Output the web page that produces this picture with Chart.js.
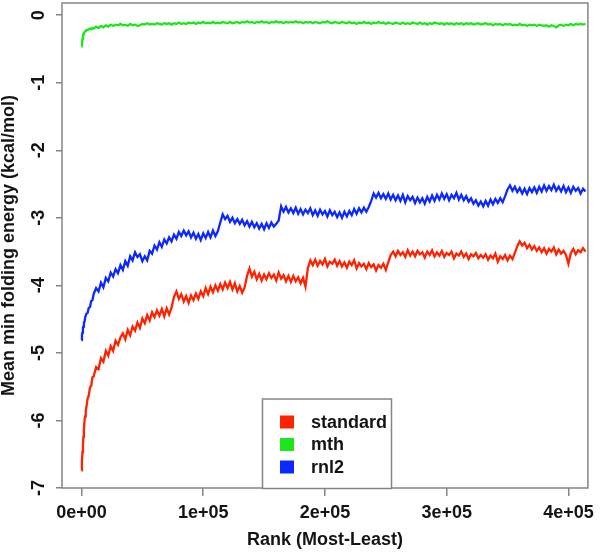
<!DOCTYPE html>
<html>
<head>
<meta charset="utf-8">
<script src="https://cdn.jsdelivr.net/npm/chart.js@4.4.1/dist/chart.umd.min.js"></script>
<style>
  html, body { margin: 0; padding: 0; background: #fff; }
  canvas { display: block; }
</style>
</head>
<body>
<canvas id="c" width="600" height="553"></canvas>
<script>
// ---- data ----
const ranks = [0,400,800,1200,1600,2000,2500,3000,3500,4000,5000,6000,7000,8000,9000,10000,
12000,14000,16000,18000,20000,22000,24000,26000,28000,30000,
32000,34000,36000,38000,40000,42000,44000,46000,48000,50000,
52000,54000,56000,58000,60000,62000,64000,66000,68000,70000,
72000,74000,76000,78000,80000,82000,84000,86000,88000,90000,
92000,94000,96000,98000,100000,102000,104000,106000,108000,110000,
112000,114000,116000,118000,120000,122000,124000,126000,128000,130000,
132000,134000,136000,138000,140000,142000,144000,146000,148000,150000,
152000,154000,156000,158000,160000,162000,164000,166000,168000,170000,
172000,174000,176000,178000,180000,182000,184000,186000,188000,190000,
192000,194000,196000,198000,200000,202000,204000,206000,208000,210000,
212000,214000,216000,218000,220000,222000,224000,226000,228000,230000,
232000,234000,236000,238000,240000,242000,244000,246000,248000,250000,
252000,254000,256000,258000,260000,262000,264000,266000,268000,270000,
272000,274000,276000,278000,280000,282000,284000,286000,288000,290000,
292000,294000,296000,298000,300000,302000,304000,306000,308000,310000,
312000,314000,316000,318000,320000,322000,324000,326000,328000,330000,
332000,334000,336000,338000,340000,342000,344000,346000,348000,350000,
352000,354000,356000,358000,360000,362000,364000,366000,368000,370000,
372000,374000,376000,378000,380000,382000,384000,386000,388000,390000,
392000,394000,396000,398000,400000,402000,404000,406000,408000,410000,
412000,414000];

const standard = [-6.74,-6.60,-6.47,-6.38,-6.24,-6.14,-6.00,-5.94,-5.85,-5.81,-5.68,-5.63,-5.51,-5.49,-5.36,-5.35,
-5.21,-5.24,-5.08,-5.13,-4.97,-5.04,-4.90,-4.97,-4.82,-4.88,
-4.77,-4.71,-4.80,-4.66,-4.74,-4.61,-4.67,-4.55,-4.63,-4.49,
-4.56,-4.44,-4.52,-4.40,-4.47,-4.37,-4.45,-4.35,-4.46,-4.34,
-4.43,-4.33,-4.17,-4.09,-4.20,-4.13,-4.24,-4.16,-4.26,-4.15,
-4.22,-4.12,-4.20,-4.09,-4.16,-4.04,-4.13,-4.02,-4.10,-4.00,
-4.08,-3.98,-4.06,-3.96,-4.04,-3.95,-4.06,-3.97,-4.09,-4.01,
-4.11,-4.03,-3.86,-3.75,-3.87,-3.80,-3.91,-3.83,-3.93,-3.84,
-3.91,-3.82,-3.89,-3.84,-3.93,-3.81,-3.90,-3.85,-3.94,-3.86,
-3.95,-3.86,-3.94,-3.88,-3.97,-3.89,-4.02,-3.74,-3.63,-3.70,
-3.62,-3.71,-3.64,-3.69,-3.61,-3.72,-3.65,-3.68,-3.62,-3.71,
-3.64,-3.72,-3.66,-3.74,-3.65,-3.70,-3.63,-3.75,-3.67,-3.72,
-3.68,-3.76,-3.67,-3.73,-3.69,-3.78,-3.70,-3.74,-3.68,-3.77,
-3.66,-3.55,-3.50,-3.57,-3.49,-3.55,-3.51,-3.58,-3.48,-3.56,
-3.50,-3.57,-3.49,-3.54,-3.51,-3.59,-3.50,-3.55,-3.48,-3.57,
-3.51,-3.56,-3.49,-3.58,-3.52,-3.55,-3.50,-3.60,-3.53,-3.56,
-3.50,-3.58,-3.53,-3.61,-3.54,-3.57,-3.52,-3.60,-3.55,-3.59,
-3.54,-3.62,-3.56,-3.60,-3.53,-3.65,-3.57,-3.61,-3.55,-3.63,
-3.56,-3.61,-3.52,-3.42,-3.35,-3.41,-3.37,-3.45,-3.40,-3.47,
-3.42,-3.49,-3.44,-3.51,-3.45,-3.53,-3.46,-3.50,-3.44,-3.54,
-3.47,-3.53,-3.49,-3.55,-3.68,-3.52,-3.46,-3.54,-3.48,-3.51,
-3.45,-3.50];

const mth = [-0.46,-0.40,-0.35,-0.31,-0.28,-0.27,-0.25,-0.24,-0.23,-0.22,-0.22,-0.21,-0.20,-0.21,-0.19,-0.20,
-0.17,-0.19,-0.16,-0.18,-0.15,-0.17,-0.14,-0.16,-0.14,-0.15,
-0.13,-0.15,-0.14,-0.16,-0.13,-0.15,-0.14,-0.16,-0.15,-0.13,
-0.14,-0.12,-0.14,-0.13,-0.14,-0.12,-0.13,-0.14,-0.12,-0.13,
-0.12,-0.14,-0.12,-0.13,-0.11,-0.13,-0.12,-0.13,-0.11,-0.12,
-0.11,-0.13,-0.11,-0.12,-0.10,-0.12,-0.11,-0.12,-0.10,-0.12,
-0.11,-0.12,-0.10,-0.11,-0.12,-0.10,-0.12,-0.11,-0.10,-0.12,
-0.10,-0.11,-0.09,-0.11,-0.10,-0.12,-0.10,-0.11,-0.09,-0.11,
-0.10,-0.12,-0.10,-0.11,-0.09,-0.11,-0.10,-0.12,-0.10,-0.11,
-0.10,-0.11,-0.09,-0.11,-0.10,-0.12,-0.10,-0.11,-0.10,-0.12,
-0.10,-0.11,-0.12,-0.10,-0.11,-0.09,-0.11,-0.12,-0.10,-0.11,
-0.12,-0.10,-0.11,-0.12,-0.10,-0.12,-0.11,-0.13,-0.11,-0.12,
-0.10,-0.12,-0.11,-0.13,-0.11,-0.12,-0.10,-0.12,-0.11,-0.13,
-0.11,-0.12,-0.13,-0.11,-0.12,-0.13,-0.11,-0.13,-0.12,-0.13,
-0.11,-0.12,-0.13,-0.11,-0.13,-0.12,-0.14,-0.12,-0.13,-0.11,
-0.12,-0.13,-0.12,-0.14,-0.12,-0.13,-0.12,-0.14,-0.12,-0.13,
-0.12,-0.14,-0.12,-0.13,-0.12,-0.14,-0.13,-0.12,-0.14,-0.13,
-0.12,-0.14,-0.13,-0.15,-0.13,-0.14,-0.13,-0.15,-0.13,-0.14,
-0.13,-0.15,-0.14,-0.15,-0.13,-0.15,-0.14,-0.16,-0.14,-0.15,
-0.14,-0.16,-0.14,-0.15,-0.16,-0.15,-0.17,-0.15,-0.16,-0.18,
-0.15,-0.14,-0.16,-0.14,-0.15,-0.13,-0.15,-0.13,-0.14,-0.13,
-0.14,-0.13];

const rnl2 = [-4.81,-4.73,-4.70,-4.62,-4.61,-4.55,-4.54,-4.48,-4.48,-4.42,-4.41,-4.33,-4.32,-4.23,-4.22,-4.13,
-4.04,-4.09,-3.96,-4.03,-3.89,-3.94,-3.81,-3.87,-3.76,-3.82,
-3.70,-3.77,-3.64,-3.71,-3.57,-3.63,-3.51,-3.58,-3.54,-3.64,
-3.57,-3.63,-3.49,-3.53,-3.41,-3.47,-3.36,-3.43,-3.32,-3.38,
-3.29,-3.35,-3.25,-3.31,-3.21,-3.27,-3.19,-3.26,-3.20,-3.29,
-3.22,-3.31,-3.24,-3.33,-3.23,-3.30,-3.21,-3.29,-3.19,-3.27,
-3.20,-3.07,-2.95,-3.02,-2.97,-3.06,-3.00,-3.08,-3.02,-3.09,
-3.03,-3.11,-3.05,-3.13,-3.06,-3.14,-3.08,-3.16,-3.09,-3.17,
-3.08,-3.15,-3.07,-3.13,-3.09,-3.04,-2.83,-2.91,-2.84,-2.92,
-2.86,-2.93,-2.85,-2.94,-2.87,-2.95,-2.88,-2.93,-2.86,-2.96,
-2.89,-2.97,-2.88,-2.95,-2.90,-2.98,-2.89,-2.96,-2.91,-2.99,
-2.92,-3.00,-2.91,-2.98,-2.90,-2.96,-2.87,-2.94,-2.86,-2.92,
-2.85,-2.91,-2.84,-2.75,-2.64,-2.70,-2.63,-2.71,-2.65,-2.72,
-2.64,-2.73,-2.66,-2.74,-2.67,-2.75,-2.66,-2.77,-2.68,-2.74,
-2.69,-2.78,-2.70,-2.77,-2.71,-2.79,-2.69,-2.76,-2.67,-2.75,
-2.66,-2.73,-2.64,-2.72,-2.65,-2.74,-2.66,-2.71,-2.63,-2.73,
-2.66,-2.74,-2.68,-2.76,-2.71,-2.79,-2.74,-2.82,-2.76,-2.83,
-2.75,-2.82,-2.73,-2.80,-2.72,-2.78,-2.71,-2.77,-2.68,-2.58,
-2.52,-2.60,-2.54,-2.62,-2.56,-2.64,-2.57,-2.65,-2.56,-2.62,
-2.55,-2.63,-2.54,-2.61,-2.52,-2.60,-2.53,-2.59,-2.51,-2.60,
-2.54,-2.61,-2.53,-2.62,-2.55,-2.63,-2.54,-2.60,-2.56,-2.64,
-2.57,-2.61];

const seriesNames = ['standard', 'mth', 'rnl2'];
const xTickValues = [0, 100000, 200000, 300000, 400000];
const xTickLabels = ['0e+00', '1e+05', '2e+05', '3e+05', '4e+05'];
const yTickValues = [0, -1, -2, -3, -4, -5, -6, -7];
const yTickLabels = ['0', '-1', '-2', '-3', '-4', '-5', '-6', '-7'];

// ---- styles ----
const FONT = '"Liberation Sans", Arial, Helvetica, sans-serif';
const colors = ['#ff2200', '#1ee61e', '#0a28ff'];
const boxColor = '#858585';
const textColor = '#141414';

const toPts = (vals) => vals.map((v, i) => ({ x: ranks[i], y: v }));

const frame = {
  id: 'frame',
  afterDraw(chart) {
    const { ctx, chartArea: a } = chart;
    ctx.save();
    ctx.strokeStyle = boxColor;
    ctx.lineWidth = 1.5;
    ctx.strokeRect(a.left, a.top, a.right - a.left, a.bottom - a.top);

    // rotated y tick labels
    const ys = chart.scales.y;
    ctx.fillStyle = textColor;
    ctx.font = 'bold 18px ' + FONT;
    ctx.textAlign = 'center';
    ctx.textBaseline = 'middle';
    ys.ticks.forEach((t) => {
      const idx = yTickValues.indexOf(t.value);
      const p = ys.getPixelForValue(t.value);
      ctx.save();
      ctx.translate(39, p);
      ctx.rotate(-Math.PI / 2);
      ctx.fillText(yTickLabels[idx], 0, 0);
      ctx.restore();
    });

    // legend
    const lx = 262.5, ly = 399, lw = 129, lh = 89.5;
    ctx.fillStyle = '#fff';
    ctx.fillRect(lx, ly, lw, lh);
    ctx.strokeStyle = boxColor;
    ctx.lineWidth = 1.5;
    ctx.strokeRect(lx, ly, lw, lh);
    chart.data.datasets.forEach((ds, i) => {
      const cy = 422 + i * 22.5;
      ctx.fillStyle = ds.borderColor;
      ctx.fillRect(280, cy - 6.5, 14, 13);
      ctx.fillStyle = textColor;
      ctx.textAlign = 'left';
      ctx.textBaseline = 'middle';
      ctx.fillText(ds.label, 311, cy + 1);
    });
    ctx.restore();
  }
};

new Chart(document.getElementById('c'), {
  type: 'line',
  data: {
    datasets: [
      { label: seriesNames[0], data: toPts(standard), borderColor: colors[0] },
      { label: seriesNames[1], data: toPts(mth), borderColor: colors[1] },
      { label: seriesNames[2], data: toPts(rnl2), borderColor: colors[2] }
    ]
  },
  options: {
    responsive: false,
    animation: false,
    devicePixelRatio: 1,
    layout: { padding: { top: 3, right: 8, left: 0, bottom: 0 } },
    elements: {
      line: { borderWidth: 2.3, tension: 0 },
      point: { radius: 0 }
    },
    plugins: { legend: { display: false }, tooltip: { enabled: false } },
    scales: {
      x: {
        type: 'linear',
        min: -16000,
        max: 416000,
        afterBuildTicks: (s) => { s.ticks = xTickValues.map(v => ({ value: v })); },
        afterFit: (s) => { s.height = 65; },
        grid: { display: true, drawOnChartArea: false, drawTicks: true, tickLength: 8, color: boxColor, lineWidth: 1.5 },
        border: { display: false },
        ticks: {
          autoSkip: false, maxRotation: 0, minRotation: 0, padding: 6,
          color: textColor,
          font: { family: FONT, size: 18, weight: 'bold' },
          callback: (v) => xTickLabels[xTickValues.indexOf(v)]
        },
        title: {
          display: true, text: 'Rank (Most-Least)', color: textColor,
          font: { family: FONT, size: 18, weight: 'bold', lineHeight: 1.2 },
          padding: { top: 0, bottom: 2 }
        }
      },
      y: {
        type: 'linear',
        min: -7.0,
        max: 0.18,
        afterBuildTicks: (s) => { s.ticks = yTickValues.map(v => ({ value: v })); },
        afterFit: (s) => { s.width = 62; },
        grid: { display: true, drawOnChartArea: false, drawTicks: true, tickLength: 6, color: boxColor, lineWidth: 1.5 },
        border: { display: false },
        ticks: { display: false },
        title: {
          display: true, text: 'Mean min folding energy (kcal/mol)', color: textColor,
          font: { family: FONT, size: 18, weight: 'bold', lineHeight: 1 },
          padding: { top: 0, bottom: 0 }
        }
      }
    }
  },
  plugins: [frame]
});
</script>
</body>
</html>
